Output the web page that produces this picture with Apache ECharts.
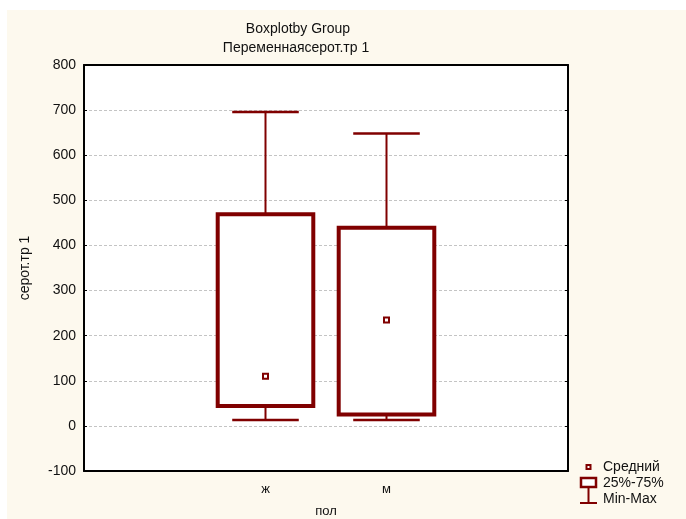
<!DOCTYPE html>
<html>
<head>
<meta charset="utf-8">
<script src="https://cdn.jsdelivr.net/npm/echarts@6/dist/echarts.min.js"></script>
<style>
html,body{margin:0;padding:0;background:#ffffff;}
#chart{width:686px;height:519px;}
</style>
</head>
<body>
<div id="chart"></div>
<script>
// ---- data ----
const categories = ['', 'ж', 'м', ''];
const groups = ['ж', 'м'];
const minVals = [13, 13];
const q1Vals = [44, 25];
const q3Vals = [469, 439];
const maxVals = [696, 648];
const meanVals = [110, 235];
const yTicks = {min: -100, max: 800, interval: 100};

const RED = '#800000';
const FONT = "'Liberation Sans', Arial, sans-serif";

const boxData = groups.map((g, i) => [g, minVals[i], q1Vals[i], q3Vals[i], maxVals[i]]);
const meanData = groups.map((g, i) => [g, meanVals[i]]);

const chart = echarts.init(document.getElementById('chart'), null, {renderer: 'canvas'});

function renderBox(params, api) {
  const x = api.value(0);
  const pMin = api.coord([x, api.value(1)]);
  const pQ1 = api.coord([x, api.value(2)]);
  const pQ3 = api.coord([x, api.value(3)]);
  const pMax = api.coord([x, api.value(4)]);
  const band = api.size([1, 0])[0];
  const bw = band * 0.79;
  const cw = band * 0.55;
  const cx = pQ1[0];
  return {
    type: 'group',
    children: [
      {type: 'line', shape: {x1: cx, y1: pMax[1], x2: cx, y2: pQ3[1]}, style: {stroke: RED, lineWidth: 2}},
      {type: 'line', shape: {x1: cx, y1: pQ1[1], x2: cx, y2: pMin[1]}, style: {stroke: RED, lineWidth: 2}},
      {type: 'line', shape: {x1: cx - cw / 2, y1: pMax[1], x2: cx + cw / 2, y2: pMax[1]}, style: {stroke: RED, lineWidth: 2.5}},
      {type: 'line', shape: {x1: cx - cw / 2, y1: pMin[1], x2: cx + cw / 2, y2: pMin[1]}, style: {stroke: RED, lineWidth: 2.5}},
      {type: 'rect', shape: {x: cx - bw / 2, y: pQ3[1], width: bw, height: pQ1[1] - pQ3[1]},
        style: {fill: '#ffffff', stroke: RED, lineWidth: 4}}
    ]
  };
}

const option = {
  backgroundColor: '#ffffff',
  animation: false,
  graphic: [
    {type: 'rect', z: -10, shape: {x: 7, y: 10, width: 686, height: 519}, style: {fill: '#fdf9ee'}},
    {type: 'rect', z: -9, shape: {x: 84, y: 65, width: 484, height: 406}, style: {fill: '#ffffff'}},
    // legend
    {type: 'rect', shape: {x: 586.5, y: 465, width: 4, height: 4}, style: {fill: '#fff', stroke: RED, lineWidth: 2}},
    {type: 'text', x: 603, y: 467, style: {text: 'Средний', font: '14px ' + FONT, fill: '#111', textVerticalAlign: 'middle'}},
    {type: 'rect', shape: {x: 581, y: 478, width: 15, height: 9}, style: {fill: '#fff', stroke: RED, lineWidth: 2.5}},
    {type: 'text', x: 603, y: 483, style: {text: '25%-75%', font: '14px ' + FONT, fill: '#111', textVerticalAlign: 'middle'}},
    {type: 'line', shape: {x1: 588.5, y1: 488, x2: 588.5, y2: 503}, style: {stroke: RED, lineWidth: 2}},
    {type: 'line', shape: {x1: 580, y1: 503, x2: 597, y2: 503}, style: {stroke: RED, lineWidth: 2}},
    {type: 'text', x: 603, y: 499, style: {text: 'Min-Max', font: '14px ' + FONT, fill: '#111', textVerticalAlign: 'middle'}}
  ],
  title: [
    {text: 'Boxplotby Group', left: 293, top: 17, textAlign: 'center',
      textStyle: {fontFamily: FONT, fontSize: 14, fontWeight: 'normal', color: '#111'}},
    {text: 'Переменнаясерот.тр 1', left: 291, top: 36, textAlign: 'center',
      textStyle: {fontFamily: FONT, fontSize: 14, fontWeight: 'normal', color: '#111'}}
  ],
  grid: {left: 84, top: 65, width: 484, height: 406, containLabel: false, outerBoundsMode: 'none'},
  xAxis: [
    {
      type: 'category', data: categories, position: 'bottom', boundaryGap: true,
      axisLine: {onZero: false, lineStyle: {color: '#000', width: 2}},
      axisTick: {inside: true, alignWithLabel: true, length: 4, lineStyle: {color: '#000'}},
      axisLabel: {margin: 12, fontFamily: FONT, fontSize: 13, color: '#111'},
      splitLine: {show: false},
      name: 'пол', nameLocation: 'middle', nameGap: 34,
      nameTextStyle: {fontFamily: FONT, fontSize: 13, color: '#111'}
    },
    {
      type: 'category', data: categories, position: 'top', boundaryGap: true,
      axisLine: {onZero: false, lineStyle: {color: '#000', width: 2}},
      axisTick: {inside: true, alignWithLabel: true, length: 4, lineStyle: {color: '#000'}},
      axisLabel: {show: false}, splitLine: {show: false}
    }
  ],
  yAxis: [
    {
      type: 'value', min: yTicks.min, max: yTicks.max, interval: yTicks.interval, position: 'left',
      axisLine: {show: true, onZero: false, lineStyle: {color: '#000', width: 2}},
      axisTick: {show: true, inside: true, length: 3, lineStyle: {color: '#000'}},
      axisLabel: {margin: 8, fontFamily: FONT, fontSize: 14, color: '#111'},
      splitLine: {show: true, lineStyle: {color: '#c4c4c4', type: [3, 2], width: 1}},
      name: 'серот.тр 1', nameLocation: 'middle', nameGap: 52, nameRotate: 90,
      nameTextStyle: {fontFamily: FONT, fontSize: 14, color: '#111'}
    },
    {
      type: 'value', min: yTicks.min, max: yTicks.max, interval: yTicks.interval, position: 'right',
      axisLine: {show: true, onZero: false, lineStyle: {color: '#000', width: 2}},
      axisTick: {show: true, inside: true, length: 3, lineStyle: {color: '#000'}},
      axisLabel: {show: false}, splitLine: {show: false}
    }
  ],
  series: [
    {
      type: 'custom', name: '25%-75%', xAxisIndex: 0, yAxisIndex: 0,
      renderItem: renderBox, data: boxData, encode: {x: 0, y: [1, 2, 3, 4]}, z: 3
    },
    {
      type: 'scatter', name: 'Средний', xAxisIndex: 0, yAxisIndex: 0,
      data: meanData, symbol: 'rect', symbolSize: 5,
      itemStyle: {color: '#ffffff', borderColor: RED, borderWidth: 2, opacity: 1}, z: 5
    }
  ]
};
chart.setOption(option);
</script>
</body>
</html>
